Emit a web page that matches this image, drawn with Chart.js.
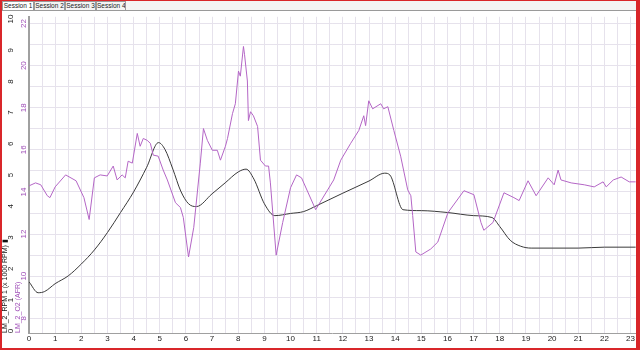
<!DOCTYPE html>
<html><head><meta charset="utf-8">
<script src="https://cdn.jsdelivr.net/npm/chart.js@4/dist/chart.umd.min.js"></script>
<style>
html,body{margin:0;padding:0;background:#fff;}
#frame{position:relative;width:640px;height:350px;box-sizing:border-box;border:2px solid #d9262a;border-right-width:4px;border-top-width:1px;overflow:hidden;background:#fff;}
#tabs{position:absolute;left:0;top:0;width:636px;height:9px;background:#f4f4f4;border-bottom:1px solid #9a9a9a;font-family:"Liberation Sans",Arial,sans-serif;font-size:6.5px;line-height:9px;color:#222;}
.tab{position:absolute;top:0;height:9px;box-sizing:border-box;border:1px solid #9a9a9a;border-bottom:none;text-align:center;line-height:8px;background:#f4f4f4;white-space:nowrap;overflow:hidden;}
.tab.active{background:#fff;}
#c{position:absolute;left:0;top:10px;}
</style></head>
<body>
<div id="frame">
  <div id="tabs">
    <div class="tab active" style="left:0;width:32px;">Session 1</div>
    <div class="tab" style="left:32px;width:31px;">Session 2</div>
    <div class="tab" style="left:63px;width:31px;">Session 3</div>
    <div class="tab" style="left:94px;width:30px;">Session 4</div>
  </div>
  <canvas id="c" width="634" height="336"></canvas>
</div>
<script>
// ---- data ----
const xTickLabels = [0,1,2,3,4,5,6,7,8,9,10,11,12,13,14,15,16,17,18,19,20,21,22,23];
const rpmTickLabels = [0,1,2,3,4,5,6,7,8,9,10];
const afrTickLabels = [8,9,10,11,12,13,14,15,16,17,18,19,20,21,22];

const rpmTime = [0,0.35,0.6,1.0,1.5,2.0,2.5,3.0,3.5,4.0,4.5,4.95,5.2,5.5,5.8,6.1,6.4,7.0,7.5,8.0,8.3,8.6,9.0,9.4,10.0,10.5,11.0,12.0,13.0,13.6,13.8,14.3,15.0,16.0,17.0,17.7,18.0,18.4,18.8,19.2,20.0,21.0,22.0,23.2];
const rpmValues = [1.58,1.23,1.27,1.52,1.77,2.15,2.6,3.16,3.8,4.46,5.25,6.04,5.82,5.19,4.49,4.08,3.99,4.4,4.75,5.1,5.19,4.87,4.08,3.7,3.77,3.83,4.02,4.42,4.81,5.06,5.0,3.89,3.86,3.8,3.7,3.64,3.35,2.91,2.72,2.66,2.66,2.66,2.69,2.69];

const afrTime = [0,0.25,0.45,0.7,0.8,1.0,1.4,1.8,2.1,2.3,2.5,2.72,2.99,3.22,3.37,3.56,3.68,3.79,3.95,4.14,4.25,4.37,4.52,4.64,4.75,4.94,5.13,5.29,5.6,5.79,5.9,6.1,6.3,6.55,6.67,6.82,7.01,7.2,7.32,7.51,7.59,7.78,7.89,8.01,8.08,8.2,8.24,8.35,8.39,8.47,8.58,8.74,8.85,9.04,9.16,9.23,9.45,9.7,10.0,10.23,10.42,10.96,11.65,11.92,12.3,12.61,12.8,12.87,12.99,13.14,13.45,13.56,13.72,13.95,14.21,14.48,14.6,14.67,14.79,14.98,15.36,15.63,16.02,16.63,17.01,17.28,17.39,17.74,18.16,18.54,18.74,19.08,19.39,19.85,20.08,20.23,20.34,20.73,21.23,21.61,21.95,22.07,22.34,22.64,22.95,23.2];
const afrValues = [14.29,14.43,14.34,13.82,13.73,14.24,14.81,14.53,13.73,12.69,14.67,14.81,14.76,15.23,14.57,14.81,14.67,15.46,15.37,16.78,16.17,16.54,16.45,16.31,15.75,15.7,15.04,14.57,13.49,13.26,12.79,10.91,12.32,15.37,17.01,16.45,15.98,15.98,15.51,16.17,16.54,17.72,18.19,19.74,19.5,20.91,20.54,19.27,17.39,17.81,17.62,17.11,15.51,15.23,15.23,14.43,11.0,12.55,14.2,14.81,14.67,13.16,14.57,15.51,16.31,16.92,17.62,17.15,18.33,17.95,18.19,17.95,18.05,16.92,15.7,14.1,13.82,12.88,11.15,11.0,11.29,11.62,13.02,14.06,13.87,12.55,12.18,12.55,13.96,13.73,13.59,14.53,13.82,14.67,14.34,15.04,14.57,14.43,14.34,14.24,14.48,14.24,14.57,14.71,14.48,14.48];

const toPts = (xs, ys) => xs.map((x, i) => ({x: x, y: ys[i]}));

const FONT = {family: '"Liberation Sans", Arial, sans-serif', size: 8};
const GRID = '#e6e2ec';

new Chart(document.getElementById('c'), {
  type: 'line',
  data: {
    datasets: [
      {label: 'LM_2_O2 (AFR)', data: toPts(afrTime, afrValues), yAxisID: 'afr',
       borderColor: '#b466c6', borderWidth: 1, pointRadius: 0, tension: 0, fill: false},
      {label: 'LM_2_RPM 1 (x 1000 RPM)', data: toPts(rpmTime, rpmValues), yAxisID: 'rpm',
       borderColor: '#3a3a3a', borderWidth: 1, pointRadius: 0, cubicInterpolationMode: 'monotone', fill: false}
    ]
  },
  options: {
    responsive: false, animation: false, events: [],
    layout: {padding: {left: 0, right: 0, top: 1, bottom: 0}},
    plugins: {legend: {display: false}, tooltip: {enabled: false}},
    scales: {
      x: {
        type: 'linear', min: 0, max: 23.2,
        afterBuildTicks: s => { const t = []; for (const v of xTickLabels) { t.push({value: v}); t.push({value: v + 0.5}); } s.ticks = t.filter(o => o.value <= 23.2); },
        afterFit: s => { s.height = 14; },
        ticks: {font: FONT, color: '#222', padding: 1, maxRotation: 0, autoSkip: false,
                callback: v => (xTickLabels.includes(v) ? String(v) : '')},
        grid: {color: GRID, drawTicks: false},
        border: {color: '#a0a0a0', width: 1}
      },
      afr: {
        type: 'linear', position: 'left', min: 7.3, max: 22.32, weight: 0,
        afterBuildTicks: s => { s.ticks = afrTickLabels.map(v => ({value: v})); },
        afterFit: s => { s.width = 13; },
        ticks: {font: FONT, color: '#a050b8', padding: 1, minRotation: 90, maxRotation: 90, crossAlign: 'center', autoSkip: false,
                callback: v => (v % 2 === 0 ? String(v) : '')},
        grid: {color: GRID, drawTicks: false},
        border: {color: '#a0a0a0', width: 2},
        title: {display: true, text: 'LM_2_O2 (AFR)', align: 'start', color: '#a050b8', font: {family: FONT.family, size: 7}, padding: {top: -2, bottom: 0}}
      },
      rpm: {
        type: 'linear', position: 'left', min: -0.06, max: 10.07, weight: 1,
        afterBuildTicks: s => { s.ticks = rpmTickLabels.map(v => ({value: v})); },
        afterFit: s => { s.width = 14; },
        ticks: {font: FONT, color: '#222', padding: 1, minRotation: 90, maxRotation: 90, crossAlign: 'center', autoSkip: false},
        grid: {display: false, drawTicks: false},
        border: {display: false},
        title: {display: true, text: 'LM_2_RPM 1 (x 1000 RPM) \u25AE', align: 'start', color: '#111', font: {family: FONT.family, size: 7}, padding: {top: -1, bottom: 0}}
      }
    }
  }
});
</script>
</body></html>
